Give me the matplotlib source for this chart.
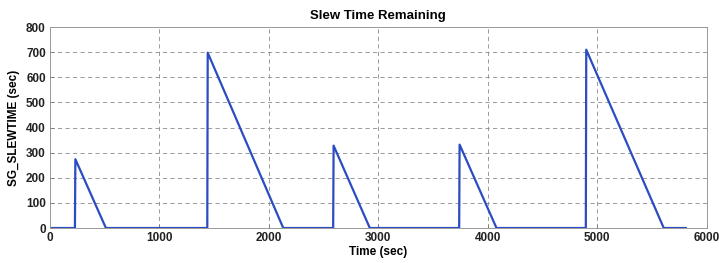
import numpy as np
import matplotlib
matplotlib.use("Agg")
import matplotlib.pyplot as plt

# slew time remaining profile
time_sec = [0, 228, 232, 511, 1437, 1441, 2131, 2587, 2591, 2922,
            3738, 3742, 4079, 4895, 4899, 5607, 5808]
slew_sec = [0, 0, 274, 0, 0, 698, 0, 0, 328, 0,
            0, 332, 0, 0, 710, 0, 0]

xticks = [0, 1000, 2000, 3000, 4000, 5000, 6000]
yticks = [0, 100, 200, 300, 400, 500, 600, 700, 800]

plt.rcParams['font.family'] = ['Liberation Sans', 'DejaVu Sans']

fig = plt.figure(figsize=(7.19, 2.63), dpi=100)
ax = fig.add_axes([0.0695, 0.133, 0.9135, 0.764])

ax.plot(time_sec, slew_sec, color='#2b4cc2', linewidth=1.6)

ax.set_xlim(0, 6000)
ax.set_ylim(0, 800)
ax.set_xticks(xticks)
ax.set_yticks(yticks)
ax.tick_params(direction='in', length=3, width=0.6, colors='#777777',
               labelcolor='#222222', labelsize=8.5, pad=3)
for lbl in ax.get_xticklabels() + ax.get_yticklabels():
    lbl.set_fontweight('bold')

ax.grid(True, linestyle=(0, (5, 4)), color='#8a8a8a', linewidth=0.6)
for s in ax.spines.values():
    s.set_color('#999999')
    s.set_linewidth(0.7)

ax.set_title('Slew Time Remaining', fontsize=9.5, fontweight='bold', pad=6)
ax.set_xlabel('Time (sec)', fontsize=8.5, fontweight='bold', labelpad=1)
ax.set_ylabel('SG_SLEWTIME (sec)', fontsize=8.5, fontweight='bold', labelpad=4)

fig.savefig('out.png', dpi=100)
